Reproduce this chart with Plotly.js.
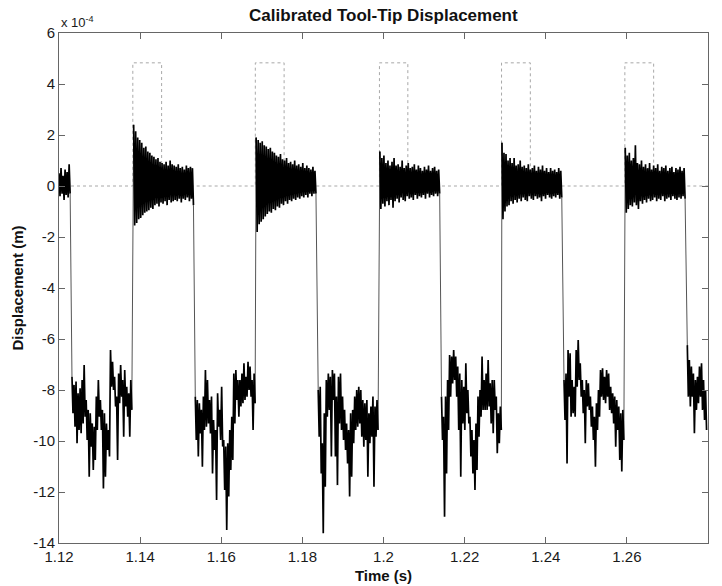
<!DOCTYPE html>
<html>
<head>
<meta charset="utf-8">
<script src="https://cdn.plot.ly/plotly-3.0.1.min.js"></script>
<style>html,body{margin:0;padding:0;background:#fff;}#chart{width:722px;height:586px;}</style>
</head>
<body>
<div id="chart"></div>
<script>
// ---- Data (displacement in units of 1e-4 m, time in s) ----
const sampleStep = 0.0005;           // s between envelope samples
const segStart = [1.1200, 1.1232, 1.1384, 1.1536, 1.1686, 1.1839, 1.1991, 1.2143, 1.2292, 1.2445, 1.2596, 1.2749];

const u0Hi = [0.5, 0.7, 0.4, 0.65, 0.55, 0.85];
const u0Lo = [-0.4, -0.3, -0.55, -0.35, -0.45, -0.3];

const l1Hi = [-7.48, -7.80, -7.67, -8.13, -7.93, -7.61, -7.02, -8.39, -8.78, -8.91, -9.31, -9.44, -8.26, -7.61, -8.39, -8.78, -8.91, -9.31, -9.57, -6.43, -6.89, -7.48, -8.26, -7.35, -7.02, -7.61, -7.22, -7.87, -8.13, -7.61];
const l1Lo = [-8.91, -9.44, -10.09, -9.57, -9.70, -9.31, -9.05, -9.96, -11.40, -10.22, -11.14, -10.74, -9.57, -9.05, -9.57, -11.86, -11.40, -10.35, -10.61, -7.87, -8.00, -8.65, -10.74, -8.52, -8.26, -9.83, -8.65, -9.05, -9.83, -8.78];

const u1Hi = [2.4, 2.15, 1.9, 1.8, 1.7, 1.5, 1.55, 1.35, 1.3, 1.2, 1.15, 1.05, 1.1, 0.95, 0.9, 0.85, 0.95, 0.8, 1.0, 0.85, 0.8, 0.75, 0.85, 0.7, 0.75, 0.65, 0.8, 0.7, 0.75, 0.7];
const u1Lo = [-1.55, -1.45, -1.3, -1.25, -1.15, -1.05, -1.0, -0.95, -0.85, -0.9, -0.75, -0.7, -0.8, -0.65, -0.7, -0.6, -0.75, -0.55, -0.65, -0.6, -0.55, -0.6, -0.5, -0.65, -0.5, -0.55, -0.45, -0.6, -0.5, -0.75];

const l2Hi = [-8.26, -8.39, -8.52, -8.78, -8.26, -7.22, -7.61, -8.39, -8.26, -9.18, -9.57, -8.13, -8.78, -7.87, -9.96, -10.22, -10.09, -9.57, -9.05, -7.35, -7.22, -7.61, -7.61, -7.35, -6.95, -7.48, -6.89, -7.08, -7.61, -7.35];
const l2Lo = [-9.96, -10.61, -9.70, -11.01, -9.57, -9.44, -9.31, -9.70, -11.27, -10.35, -12.31, -9.44, -9.96, -10.22, -11.92, -13.49, -12.18, -11.14, -10.74, -9.31, -8.39, -9.05, -8.65, -8.52, -8.39, -8.26, -8.00, -8.26, -9.57, -8.52];

const u2Hi = [1.9, 1.8, 1.7, 1.75, 1.6, 1.55, 1.45, 1.5, 1.35, 1.3, 1.2, 1.15, 1.25, 1.05, 1.0, 1.1, 0.9, 0.95, 0.85, 1.0, 0.8, 0.85, 0.75, 0.9, 0.7, 0.8, 0.7, 0.65, 0.75, 0.6];
const u2Lo = [-1.8, -1.5, -1.4, -1.3, -1.2, -1.1, -1.0, -1.05, -0.9, -0.95, -0.8, -0.85, -0.7, -0.75, -0.6, -0.7, -0.55, -0.6, -0.5, -0.55, -0.45, -0.5, -0.4, -0.45, -0.35, -0.45, -0.3, -0.4, -0.3, -0.3];

const l3Hi = [-8.00, -7.87, -10.09, -8.91, -7.61, -7.35, -7.48, -7.22, -7.35, -8.26, -7.48, -7.35, -8.26, -8.78, -9.31, -9.57, -8.91, -8.78, -8.26, -8.00, -7.87, -8.00, -8.39, -8.52, -8.39, -8.91, -8.65, -8.26, -8.65, -8.39];
const l3Lo = [-9.83, -11.27, -13.62, -11.79, -9.05, -8.78, -10.61, -8.39, -10.61, -11.73, -9.31, -9.57, -9.96, -10.35, -10.88, -12.18, -11.40, -10.09, -9.57, -9.44, -9.31, -9.83, -10.22, -9.96, -11.40, -10.09, -9.83, -11.79, -9.83, -9.57];

const u3Hi = [1.35, 1.1, 1.2, 0.9, 1.0, 0.8, 0.95, 1.1, 0.8, 0.85, 0.75, 1.0, 0.7, 0.8, 0.9, 0.7, 0.75, 0.85, 0.65, 0.8, 0.7, 0.6, 0.75, 0.65, 0.8, 0.6, 0.7, 0.75, 0.6, 0.65];
const u3Lo = [-0.9, -0.7, -0.8, -0.6, -0.75, -0.55, -0.85, -0.6, -0.5, -0.65, -0.45, -0.55, -0.6, -0.4, -0.5, -0.45, -0.55, -0.35, -0.5, -0.4, -0.45, -0.35, -0.5, -0.3, -0.45, -0.35, -0.4, -0.3, -0.4, -0.3];

const l4Hi = [-8.26, -9.05, -8.26, -7.61, -6.63, -6.69, -6.43, -6.69, -7.08, -7.35, -7.61, -7.87, -6.95, -8.00, -9.05, -9.57, -9.96, -9.31, -8.26, -8.00, -6.69, -7.61, -7.35, -6.82, -7.74, -7.61, -7.61, -8.26, -8.91, -8.65];
const l4Lo = [-9.96, -12.97, -11.27, -9.57, -8.26, -7.74, -7.61, -8.26, -9.57, -11.40, -9.31, -9.57, -8.91, -9.31, -10.61, -11.27, -11.92, -11.14, -9.83, -9.05, -8.78, -8.78, -8.78, -8.65, -9.31, -9.70, -8.78, -10.48, -10.09, -9.57];

const u4Hi = [1.7, 1.3, 1.25, 1.0, 1.1, 0.9, 1.1, 0.8, 0.85, 1.0, 0.75, 0.8, 0.7, 0.85, 0.65, 0.7, 0.8, 0.6, 0.75, 0.65, 0.8, 0.6, 0.7, 0.55, 0.7, 0.6, 0.65, 0.55, 0.7, 0.6];
const u4Lo = [-1.3, -1.0, -0.8, -0.75, -0.6, -0.7, -0.55, -0.65, -0.5, -0.6, -0.45, -0.55, -0.6, -0.4, -0.5, -0.55, -0.4, -0.5, -0.45, -0.6, -0.4, -0.5, -0.35, -0.45, -0.5, -0.4, -0.45, -0.35, -0.5, -0.45];

const l5Hi = [-7.61, -7.35, -6.43, -6.56, -7.61, -7.87, -6.43, -6.04, -6.95, -7.61, -8.00, -7.61, -7.74, -8.26, -8.65, -9.05, -8.52, -8.00, -7.22, -7.15, -7.48, -7.22, -7.35, -7.87, -8.13, -8.26, -8.39, -8.65, -8.91, -8.78];
const l5Lo = [-9.18, -10.88, -8.26, -9.05, -8.91, -9.05, -7.87, -7.61, -8.26, -8.91, -10.09, -8.65, -8.78, -9.44, -9.96, -11.01, -9.57, -9.05, -8.26, -8.39, -8.52, -8.26, -8.78, -8.91, -9.31, -10.22, -9.57, -10.74, -11.20, -9.96];

const u5Hi = [1.5, 1.2, 1.3, 1.0, 1.1, 1.6, 0.9, 0.85, 1.0, 0.75, 0.85, 0.7, 0.9, 0.65, 0.8, 0.7, 0.85, 0.6, 0.75, 0.7, 0.8, 0.6, 0.7, 0.75, 0.55, 0.7, 0.65, 0.75, 0.6, 0.7];
const u5Lo = [-1.05, -0.9, -0.75, -0.8, -0.65, -0.75, -0.9, -0.6, -0.7, -0.55, -0.65, -0.5, -0.6, -0.55, -0.45, -0.6, -0.5, -0.55, -0.4, -0.6, -0.5, -0.45, -0.55, -0.4, -0.5, -0.55, -0.45, -0.5, -0.4, -0.5];

const l6Hi = [-6.24, -6.82, -7.08, -7.35, -7.61, -7.48, -7.08, -6.95, -7.61, -8.00];
const l6Lo = [-8.26, -8.65, -8.26, -9.70, -8.78, -8.52, -8.26, -8.78, -9.18, -9.57];

// cutting-gate reference (dotted)
const gateOn = [1.1382, 1.1684, 1.1990, 1.2291, 1.2595];
const gateOff = [1.1453, 1.1755, 1.2060, 1.2362, 1.2666];
const gateLevel = 4.83;
const gateBase = 0;

const xTickVals = [1.12, 1.14, 1.16, 1.18, 1.20, 1.22, 1.24, 1.26, 1.28];
const xTickText = ['1.12', '1.14', '1.16', '1.18', '1.2', '1.22', '1.24', '1.26', '1.28'];
const yTickVals = [6, 4, 2, 0, -2, -4, -6, -8, -10, -12, -14];
const yTickText = ['6', '4', '2', '0', '-2', '-4', '-6', '-8', '-10', '-12', '-14'];

// ---- Build traces ----
const segHi = [u0Hi, l1Hi, u1Hi, l2Hi, u2Hi, l3Hi, u3Hi, l4Hi, u4Hi, l5Hi, u5Hi, l6Hi];
const segLo = [u0Lo, l1Lo, u1Lo, l2Lo, u2Lo, l3Lo, u3Lo, l4Lo, u4Lo, l5Lo, u5Lo, l6Lo];
const sx = [], sy = [];       // dense noisy parts
const tx = [], ty = [];       // fast jumps between the two states
segStart.forEach((t0, k) => {
  const hi = segHi[k], lo = segLo[k];
  for (let i = 0; i < hi.length; i++) {
    sx.push(t0 + i * sampleStep); sy.push(hi[i]);
    sx.push(t0 + i * sampleStep + sampleStep / 2); sy.push(lo[i]);
  }
  if (k < segStart.length - 1) {
    const n = hi.length;
    tx.push(t0 + (n - 1) * sampleStep + sampleStep / 2, segStart[k + 1], null);
    ty.push(lo[n - 1], segHi[k + 1][0], null);
  }
  sx.push(null); sy.push(null);
});

const gx = [xTickVals[0]], gy = [gateBase];
gateOn.forEach((on, k) => {
  gx.push(on, on, gateOff[k], gateOff[k]);
  gy.push(gateBase, gateLevel, gateLevel, gateBase);
});
gx.push(xTickVals[xTickVals.length - 1]); gy.push(gateBase);

const FONT = 'Liberation Sans, Arial, Helvetica, sans-serif';
const traces = [
  {x: gx, y: gy, type: 'scatter', mode: 'lines', line: {color: '#a8a8a8', width: 1, dash: 'dot'}, hoverinfo: 'skip'},
  {x: tx, y: ty, type: 'scatter', mode: 'lines', line: {color: '#555', width: 1}, hoverinfo: 'skip', connectgaps: false},
  {x: sx, y: sy, type: 'scatter', mode: 'lines', line: {color: '#000', width: 1.7}, hoverinfo: 'skip', connectgaps: false}
];

const axisCommon = {
  ticks: 'inside', ticklen: 6, tickcolor: '#666', tickwidth: 1,
  showline: true, linecolor: '#666', linewidth: 1, mirror: 'ticks',
  showgrid: false, zeroline: false,
  tickfont: {family: FONT, size: 15, color: '#1a1a1a'}
};

const layout = {
  width: 722, height: 586,
  margin: {l: 59, r: 14, t: 33, b: 43},
  paper_bgcolor: '#fff', plot_bgcolor: '#fff',
  showlegend: false,
  title: {text: '<b>Calibrated Tool-Tip Displacement</b>', font: {family: FONT, size: 17, color: '#111'},
          x: 0.531, xanchor: 'center', y: 0.974, yanchor: 'middle'},
  xaxis: Object.assign({}, axisCommon, {
    range: [1.12, 1.28], tickmode: 'array', tickvals: xTickVals, ticktext: xTickText,
    title: {text: '<b>Time (s)</b>', font: {family: FONT, size: 15, color: '#111'}, standoff: 6}
  }),
  yaxis: Object.assign({}, axisCommon, {
    range: [-14, 6], tickmode: 'array', tickvals: yTickVals, ticktext: yTickText,
    title: {text: '<b>Displacement (m)</b>', font: {family: FONT, size: 15, color: '#111'}, standoff: 6}
  }),
  annotations: [{
    xref: 'paper', yref: 'paper', x: 0, y: 1.022, xanchor: 'left', yanchor: 'middle',
    text: 'x 10<sup>-4</sup>', showarrow: false, font: {family: FONT, size: 13, color: '#1a1a1a'}
  }]
};

Plotly.newPlot('chart', traces, layout, {displayModeBar: false, staticPlot: true});
</script>
</body>
</html>
